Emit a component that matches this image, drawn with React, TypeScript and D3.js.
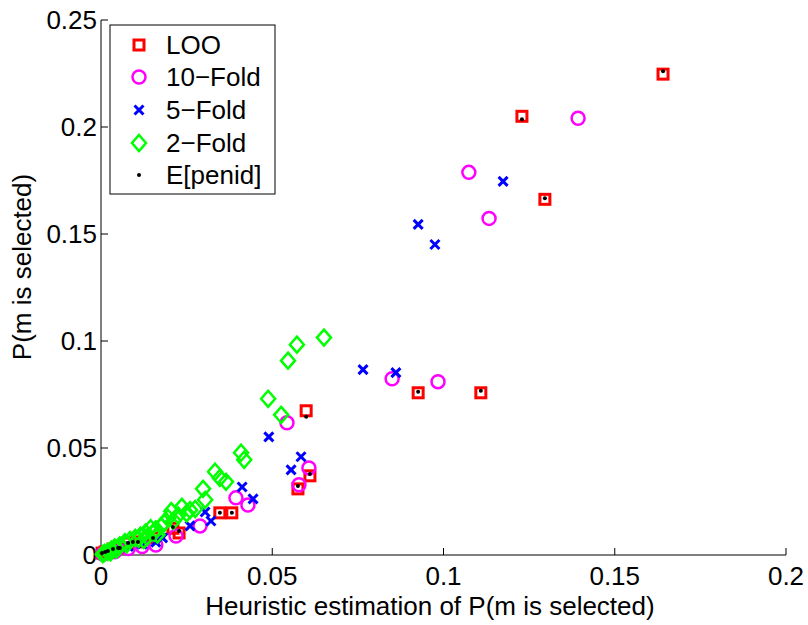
import React from "react";
import * as d3 from "d3";

const xTicks = [0, 0.05, 0.1, 0.15, 0.2];
const yTicks = [0, 0.05, 0.1, 0.15, 0.2, 0.25];
const xTickLabels = ["0", "0.05", "0.1", "0.15", "0.2"];
const yTickLabels = ["0", "0.05", "0.1", "0.15", "0.2", "0.25"];
const legendLabels = ["LOO", "10\u2212Fold", "5\u2212Fold", "2\u2212Fold", "E[penid]"];

const looData: [number, number][] = [
  [0.1641, 0.2247], [0.1229, 0.205], [0.1296, 0.1662], [0.0926, 0.0758], [0.1109, 0.0758],
  [0.0599, 0.0674], [0.0575, 0.0309], [0.061, 0.037], [0.0347, 0.0197], [0.0382, 0.0197],
  [0.0228, 0.0103], [0.021, 0.0125], [0.0152, 0.008], [0.0108, 0.0061], [0.0079, 0.0056],
  [0.005, 0.0033], [0.0035, 0.0028], [0.0012, 0.0014], [0.0003, 0.0009],
];
const fold10Data: [number, number][] = [
  [0.1393, 0.2041], [0.1074, 0.1788], [0.1133, 0.1573], [0.0984, 0.081], [0.085, 0.0824],
  [0.0543, 0.0618], [0.0607, 0.0407], [0.0578, 0.0328], [0.0394, 0.0267], [0.0429, 0.0234],
  [0.0289, 0.0136], [0.0219, 0.0089], [0.016, 0.0047], [0.012, 0.004], [0.008, 0.003],
  [0.004, 0.0015], [0.0005, 0.0005],
];
const fold5Data: [number, number][] = [
  [0.1174, 0.1746], [0.0926, 0.1545], [0.0975, 0.1451], [0.0765, 0.0866], [0.0861, 0.0852],
  [0.049, 0.0552], [0.0584, 0.0459], [0.0555, 0.0398], [0.0412, 0.0318], [0.0444, 0.0262],
  [0.0304, 0.0201], [0.0321, 0.0159], [0.026, 0.0136], [0.018, 0.008], [0.016, 0.006],
  [0.012, 0.005], [0.008, 0.004], [0.004, 0.002],
];
const fold2Data: [number, number][] = [
  [0.0651, 0.1016], [0.0572, 0.0983], [0.0546, 0.0908], [0.0488, 0.073], [0.0526, 0.0655],
  [0.0409, 0.0478], [0.0418, 0.0445], [0.0333, 0.0389], [0.0347, 0.036], [0.0365, 0.0342],
  [0.0298, 0.0309], [0.0304, 0.0258], [0.0236, 0.0225], [0.026, 0.021], [0.0275, 0.0215],
  [0.0196, 0.0173], [0.0212, 0.016], [0.0175, 0.0135], [0.016, 0.012], [0.0145, 0.0125],
  [0.013, 0.0105], [0.0115, 0.009], [0.01, 0.008], [0.0085, 0.007], [0.007, 0.006],
  [0.0055, 0.0045], [0.004, 0.0035], [0.003, 0.0025], [0.002, 0.0015], [0.001, 0.001],
  [0.0005, 0.0004], [0.0165, 0.0095], [0.0125, 0.007], [0.0185, 0.015], [0.0225, 0.0185],
  [0.0205, 0.0205], [0.025, 0.0195], [0.0155, 0.0105], [0.011, 0.0075], [0.0075, 0.005],
  [0.0045, 0.0025], [0.0135, 0.0085], [0.0028, 0.0012],
];
const penidData: [number, number][] = [
  [0.1641, 0.2261], [0.1229, 0.2036], [0.1296, 0.1667], [0.0926, 0.0763], [0.1109, 0.0768],
  [0.0599, 0.0646], [0.0575, 0.0323], [0.061, 0.0379], [0.0347, 0.0197], [0.0382, 0.0197],
  [0.0228, 0.0112], [0.021, 0.0131], [0.0152, 0.008], [0.0108, 0.0061], [0.0093, 0.0061],
  [0.0079, 0.0056], [0.0055, 0.0033], [0.005, 0.0033], [0.0035, 0.0028], [0.002, 0.0019],
  [0.0012, 0.0014], [0.0003, 0.0009],
];

const FONT = "'Liberation Sans', Arial, Helvetica, sans-serif";

function Marker({ type, x, y }: { type: string; x: number; y: number }) {
  if (type === "square")
    return <rect x={x - 5} y={y - 5} width={10} height={10} fill="none" stroke="#ff0000" strokeWidth={3} />;
  if (type === "circle")
    return <circle cx={x} cy={y} r={6.5} fill="none" stroke="#ff00ff" strokeWidth={2.5} />;
  if (type === "x")
    return (
      <path d={`M${x - 4.5},${y - 4.5}L${x + 4.5},${y + 4.5}M${x - 4.5},${y + 4.5}L${x + 4.5},${y - 4.5}`}
        stroke="#0000ff" strokeWidth={3} fill="none" />
    );
  if (type === "diamond")
    return (
      <path d={`M${x},${y - 8}L${x + 7},${y}L${x},${y + 8}L${x - 7},${y}Z`}
        stroke="#00ff00" strokeWidth={2.5} fill="none" />
    );
  return <circle cx={x} cy={y} r={2} fill="#000" />;
}

export default function App() {
  const x = d3.scaleLinear().domain([0, 0.2]).range([101, 786]);
  const y = d3.scaleLinear().domain([0, 0.25]).range([555, 20]);
  const series: { type: string; data: [number, number][] }[] = [
    { type: "square", data: looData },
    { type: "circle", data: fold10Data },
    { type: "x", data: fold5Data },
    { type: "diamond", data: fold2Data },
    { type: "dot", data: penidData },
  ];
  const legendRows = [45, 77, 110, 143, 175];
  return (
    <svg width={808} height={625} style={{ display: "block", position: "absolute", left: 0, top: 0 }} fontFamily={FONT}>
      <rect x={0} y={0} width={808} height={625} fill="#fff" />
      <line x1={101} y1={y(0.25)} x2={101} y2={555} stroke="#000" strokeWidth={1} />
      <line x1={101} y1={555} x2={786} y2={555} stroke="#000" strokeWidth={1} />
      {xTicks.map((t, i) => (
        <g key={"xt" + i}>
          <line x1={x(t)} x2={x(t)} y1={555} y2={548} stroke="#000" />
          <text x={x(t)} y={585} textAnchor="middle" fontSize={26}>{xTickLabels[i]}</text>
        </g>
      ))}
      {yTicks.map((t, i) => (
        <g key={"yt" + i}>
          <line x1={101} x2={108} y1={y(t)} y2={y(t)} stroke="#000" />
          <text x={97} y={y(t) + 9} textAnchor="end" fontSize={26}>{yTickLabels[i]}</text>
        </g>
      ))}
      <text x={430} y={615} textAnchor="middle" fontSize={26}>Heuristic estimation of P(m is selected)</text>
      <text transform="translate(31,267) rotate(-90)" textAnchor="middle" fontSize={26}>P(m is selected)</text>
      {series.map((s, si) => (
        <g key={"s" + si}>
          {s.data.map((d, i) => (
            <Marker key={i} type={s.type} x={x(d[0])} y={y(d[1])} />
          ))}
        </g>
      ))}
      <rect x={110} y={25} width={165} height={169} fill="#fff" stroke="#000" strokeWidth={1} />
      {series.map((s, i) => (
        <g key={"lg" + i}>
          <Marker type={s.type} x={139} y={legendRows[i]} />
          <text x={166} y={legendRows[i] + 9} fontSize={26}>{legendLabels[i]}</text>
        </g>
      ))}
    </svg>
  );
}
